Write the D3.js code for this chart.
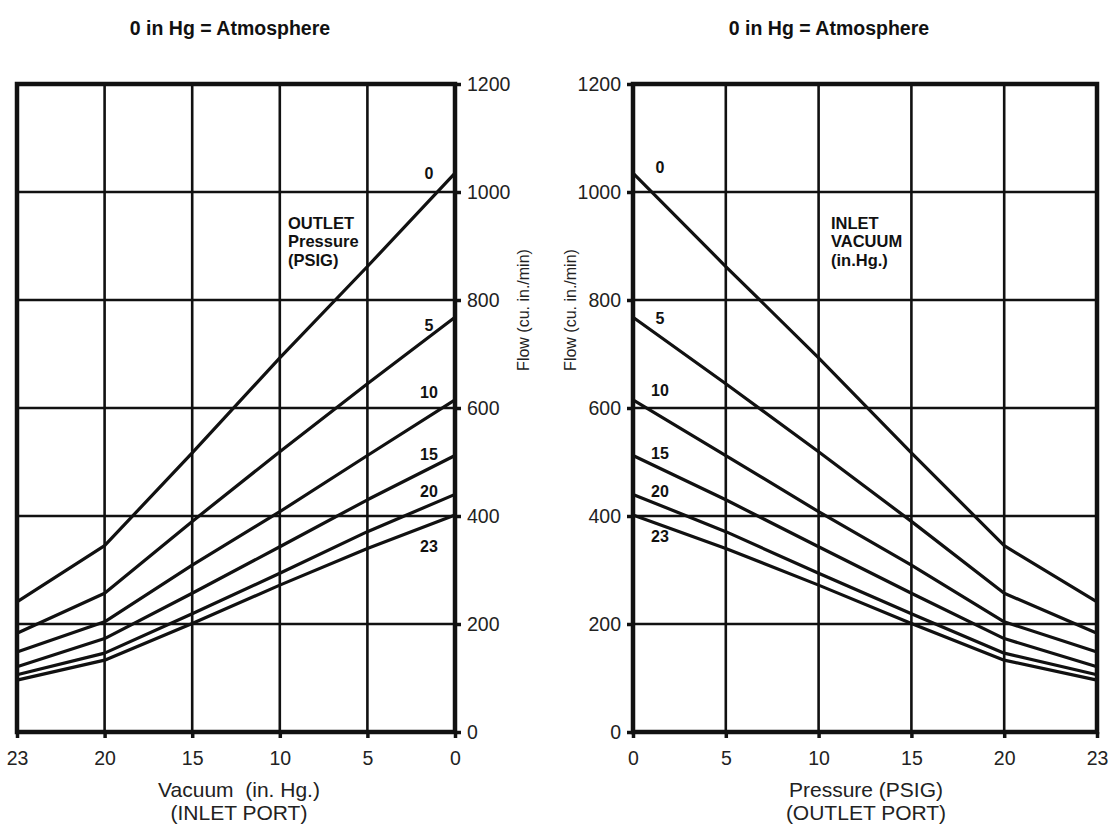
<!DOCTYPE html>
<html>
<head>
<meta charset="utf-8">
<script src="https://cdn.jsdelivr.net/npm/d3@7"></script>
<style>
  body { margin: 0; background: #fff; }
  svg { display: block; font-family: "Liberation Sans", Arial, Helvetica, sans-serif; }
</style>
</head>
<body>
<div id="chart"></div>
<script>
'use strict';

/***************************** Chart data *********************************/

// x positions (vacuum in.Hg on the left, PSIG on the right)
var pressurePoints = [0, 5, 10, 15, 20, 23];
// curve names (outlet PSIG on the left panel, inlet vacuum on the right one)
var curveNames = ["0", "5", "10", "15", "20", "23"];

var flowCurve0  = [1035, 862, 693, 517, 345, 241];
var flowCurve5  = [768, 645, 519, 390, 257, 183];
var flowCurve10 = [615, 512, 408, 309, 204, 148];
var flowCurve15 = [512, 430, 343, 257, 173, 121];
var flowCurve20 = [440, 371, 294, 219, 146, 106];
var flowCurve23 = [402, 340, 272, 201, 133, 96];

var flowTicks = [0, 200, 400, 600, 800, 1000, 1200];

var curveValues = [flowCurve0, flowCurve5, flowCurve10, flowCurve15, flowCurve20, flowCurve23];

/***************************** Svg setup **********************************/

var width = 1114;
var height = 824;
var plotTop = 84;
var plotBottom = 732;

var svg = d3.select("#chart").append("svg")
	.attr("width", width)
	.attr("height", height);

var yFlow = d3.scaleLinear().domain([0, 1200]).range([plotBottom, plotTop]);

var curves = curveNames.map(function(name, i) {
	return {
		name: name,
		points: pressurePoints.map(function(p, j) { return {p: p, f: curveValues[i][j]}; })
	};
});

/***************************** Panel drawing *******************************/

function drawPanel(cfg) {

	var x = d3.scalePoint().domain(cfg.xOrder).range([cfg.left, cfg.right]);
	var g = svg.append("g").attr("class", cfg.name);

	// grid
	g.append("g").selectAll("line.h")
		.data(flowTicks.slice(1, -1))
		.join("line")
		.attr("x1", cfg.left).attr("x2", cfg.right)
		.attr("y1", function(d) { return yFlow(d); })
		.attr("y2", function(d) { return yFlow(d); })
		.attr("stroke", "#111").attr("stroke-width", 2.6);

	g.append("g").selectAll("line.v")
		.data(cfg.xOrder.slice(1, -1))
		.join("line")
		.attr("x1", function(d) { return x(d); })
		.attr("x2", function(d) { return x(d); })
		.attr("y1", plotTop).attr("y2", plotBottom)
		.attr("stroke", "#111").attr("stroke-width", 2.6);

	// flow curves
	var line = d3.line()
		.x(function(d) { return x(d.p); })
		.y(function(d) { return yFlow(d.f); });

	g.append("g").selectAll("path")
		.data(curves)
		.join("path")
		.attr("d", function(d) { return line(d.points); })
		.attr("fill", "none")
		.attr("stroke", "#111")
		.attr("stroke-width", 3.2)
		.attr("stroke-linejoin", "round");

	// frame
	g.append("rect")
		.attr("x", cfg.left).attr("y", plotTop)
		.attr("width", cfg.right - cfg.left).attr("height", plotBottom - plotTop)
		.attr("fill", "none")
		.attr("stroke", "#111")
		.attr("stroke-width", 4.5);

	// axes
	var yAxis = (cfg.yOnRight ? d3.axisRight(yFlow) : d3.axisLeft(yFlow))
		.tickValues(flowTicks).tickFormat(d3.format("d")).tickSize(6).tickPadding(6);
	var yg = g.append("g")
		.attr("transform", "translate(" + (cfg.yOnRight ? cfg.right : cfg.left) + ",0)")
		.call(yAxis);

	var xAxis = d3.axisBottom(x).tickSize(6).tickPadding(13);
	var xg = g.append("g")
		.attr("transform", "translate(0," + plotBottom + ")")
		.call(xAxis);

	[yg, xg].forEach(function(a) {
		a.select(".domain").remove();
		a.selectAll(".tick line").attr("stroke", "#111").attr("stroke-width", 3.5);
		a.selectAll(".tick text")
			.attr("fill", "#222")
			.style("font-size", "19.5px")
			.style("font-family", "'Liberation Sans', Arial, sans-serif");
	});

	// curve labels
	g.append("g").selectAll("text")
		.data(curves)
		.join("text")
		.attr("x", x(0) + cfg.labelDx)
		.attr("y", function(d, i) { return yFlow(d.points[0].f) + cfg.labelDy[i]; })
		.attr("text-anchor", "middle")
		.attr("dominant-baseline", "central")
		.style("font-size", "16px")
		.style("font-weight", "bold")
		.attr("fill", "#111")
		.text(function(d) { return d.name; });

	// note inside the grid
	g.append("text")
		.attr("x", cfg.noteX).attr("y", 223)
		.style("font-size", "16.5px")
		.style("font-weight", "bold")
		.attr("fill", "#111")
		.selectAll("tspan")
		.data(cfg.note)
		.join("tspan")
		.attr("x", cfg.noteX)
		.attr("dy", function(d, i) { return i === 0 ? "0.35em" : 18.5; })
		.text(function(d) { return d; });

	// titles
	svg.append("text")
		.attr("x", cfg.titleX).attr("y", 35)
		.attr("text-anchor", "middle")
		.style("font-size", "19.5px")
		.style("font-weight", "bold")
		.attr("fill", "#111")
		.text("0 in Hg = Atmosphere");

	svg.append("text")
		.attr("text-anchor", "middle")
		.style("font-size", "21px")
		.style("white-space", "pre")
		.attr("fill", "#222")
		.selectAll("tspan")
		.data(cfg.xTitle)
		.join("tspan")
		.attr("x", cfg.xTitleX)
		.attr("y", function(d, i) { return 797 + i * 22.5; })
		.text(function(d) { return d; });

	svg.append("text")
		.attr("transform", "translate(" + cfg.yTitleX + ",310) rotate(-90)")
		.attr("text-anchor", "middle")
		.attr("dominant-baseline", "central")
		.style("font-size", "16px")
		.attr("fill", "#222")
		.text("Flow (cu. in./min)");
}

/***************************** Both panels *********************************/

drawPanel({
	name: "vacuumPanel",
	left: 17, right: 455,
	xOrder: pressurePoints.slice().reverse(),
	yOnRight: true,
	labelDx: -26,
	labelDy: [0, 8, -7, -1.5, -3, 32],
	noteX: 288,
	note: ["OUTLET", "Pressure", "(PSIG)"],
	titleX: 230,
	xTitle: ["Vacuum  (in. Hg.)", "(INLET PORT)"],
	xTitleX: 239,
	yTitleX: 523
});

drawPanel({
	name: "pressurePanel",
	left: 633, right: 1097,
	xOrder: pressurePoints,
	yOnRight: false,
	labelDx: 27,
	labelDy: [-6, 1, -9, -2.5, -3, 22],
	noteX: 831,
	note: ["INLET", "VACUUM", "(in.Hg.)"],
	titleX: 829,
	xTitle: ["Pressure (PSIG)", "(OUTLET PORT)"],
	xTitleX: 866,
	yTitleX: 570
});
</script>
</body>
</html>
